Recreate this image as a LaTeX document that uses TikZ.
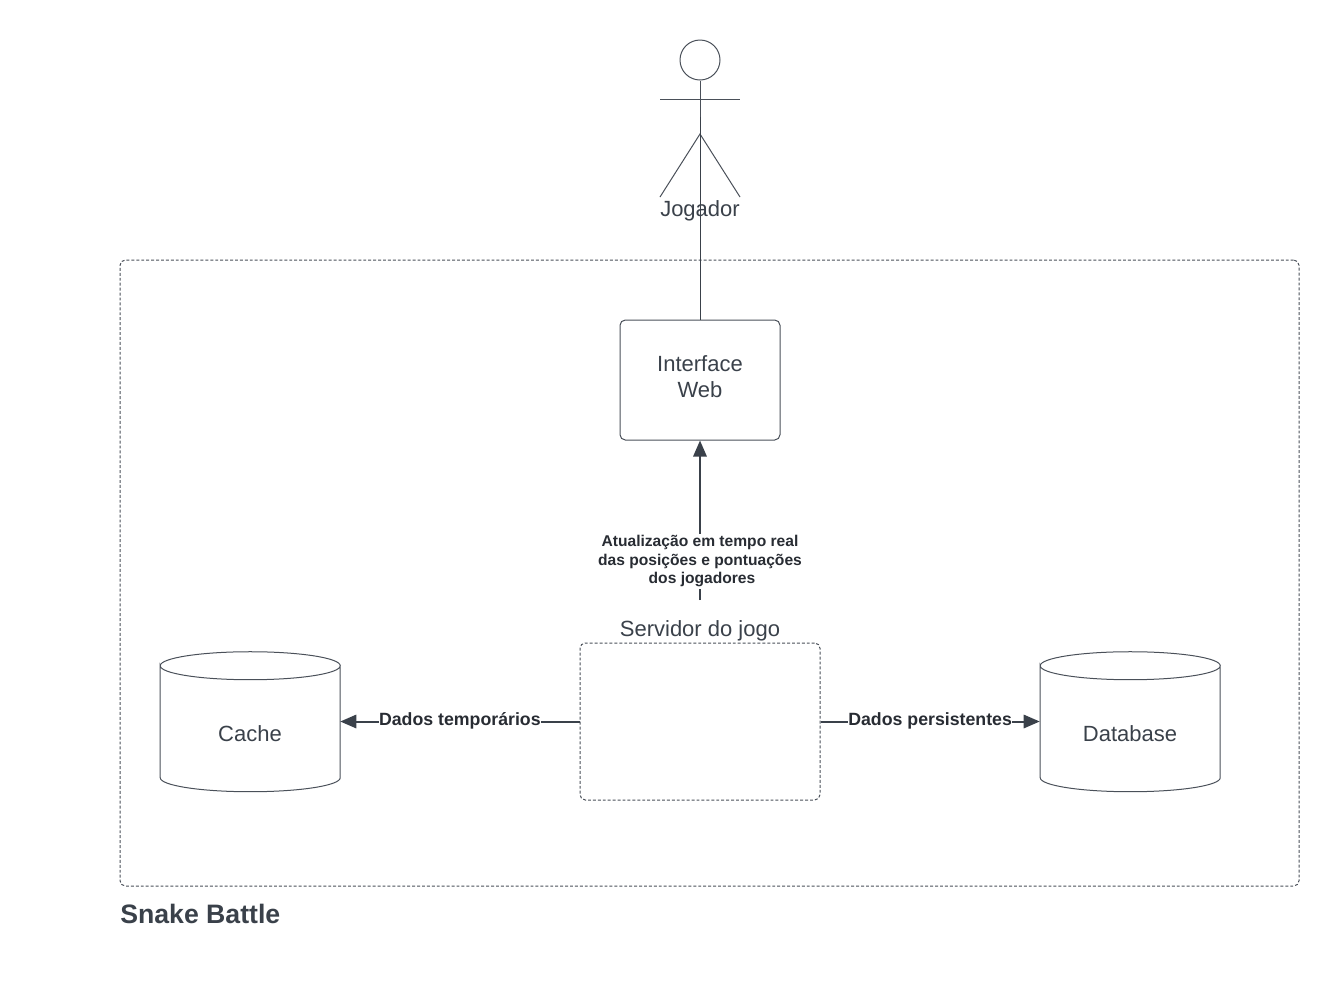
\documentclass[tikz,border=0pt]{standalone}
\usepackage{fontspec}
\setmainfont{Liberation Sans}
\usetikzlibrary{arrows.meta, positioning}
\definecolor{inkdark}{HTML}{3A414A}
\definecolor{inkline}{HTML}{4A5059}
\definecolor{labelink}{HTML}{282C33}
\tikzset{
	block/.style={draw=inkline, line width=0.75pt, rounded corners=4pt},
	selection/.style={draw=inkline, line width=0.75pt, rounded corners=4pt, dash pattern=on 2.2pt off 1.5pt},
	store/.style={minimum width=135pt, minimum height=105pt, inner sep=0pt},
	storeline/.style={draw=inkline, line width=0.75pt},
	caption/.style={text=inkdark, align=center, font=\fontsize{16.5}{20}\selectfont, inner sep=0pt},
	edgelabel/.style={fill=white, text=labelink, align=center, inner sep=0pt},
	edgethin/.style={edgelabel, font=\bfseries\fontsize{11.7}{13.9}\selectfont},
	edgewide/.style={edgelabel, font=\bfseries\fontsize{13.3}{16}\selectfont},
	flow/.style={draw=inkdark, line width=1.5pt, -{Triangle[length=12pt, width=10pt]}}
}
\newcommand{\storeoutline}[1]{%
	\draw[storeline] (#1.north west) ++(0.5,14)
		arc[start angle=180, end angle=-180, x radius=67.5pt, y radius=10.5pt]
		-- ++(0,112) arc[start angle=180, end angle=360, x radius=67.5pt, y radius=10.5pt]
		-- ++(0,-112);}
\begin{document}
\begin{tikzpicture}[x=0.75pt, y=-0.75pt]
		\useasboundingbox (0,0) rectangle (1340,990);
		
		\node[selection, minimum width=884.25pt, minimum height=469.5pt] (system) at (709.5,573) {};
		\node[anchor=west, inner sep=0pt, text=inkdark, font=\bfseries\fontsize{20}{24}\selectfont] (systemtitle) at (120,913.5) {Snake Battle};
		
		\node[block, minimum width=120pt, minimum height=90pt] (web) at (700,380) {};
		\node[caption] (webtitle) at (700,376.5) {Interface \\ Web};
		
		\node[selection, minimum width=180pt, minimum height=117.75pt] (server) at (700,721.5) {};
		\node[caption] (servertitle) at (700,630.5) {Servidor do jogo};
		
		\node[store] (cache) at (250,722) {};
		\storeoutline{cache}
		\node[caption] (cachetitle) at (250,733.5) {Cache};
		
		\node[store] (db) at (1130,722) {};
		\storeoutline{db}
		\node[caption] (dbtitle) at (1130,733.5) {Database};
		
		\node[circle, draw=inkline, line width=0.75pt, minimum size=30pt, inner sep=0pt] (head) at (700,60) {};
		\coordinate (handl) at (660,99);
		\coordinate (handr) at (740,99);
		\coordinate (hip) at (700,134);
		\coordinate (footl) at (660,197);
		\coordinate (footr) at (740,197);
		\coordinate (neck) at (700,117);
		\coordinate (serverport) at (700,600);
		\node[caption] (player) at (700,211) {Jogador};
		
		\draw[draw=inkline, line width=0.75pt] (head.south) -- (hip);
		\draw[draw=inkline, line width=0.75pt] (handl) -- (handr);
		\draw[draw=inkline, line width=0.75pt] (footl) -- (hip) -- (footr);
		\draw[draw=inkdark, line width=0.75pt] (web.north) -- (neck);
		
		\draw[flow] (serverport) -- (web.south) node[edgethin, pos=0.242, inner ysep=1.2pt] {Atualização em tempo real \\ das posições e pontuações \\ \hspace*{3pt}dos jogadores};
		\draw[flow] (server.west) -- (cache.east |- server.west) node[edgewide, midway, yshift=0.8pt] {Dados temporários};
		\draw[flow] (server.east) -- (db.west |- server.east) node[edgewide, midway, yshift=0.8pt] {Dados persistentes};
	\end{tikzpicture}
\end{document}
